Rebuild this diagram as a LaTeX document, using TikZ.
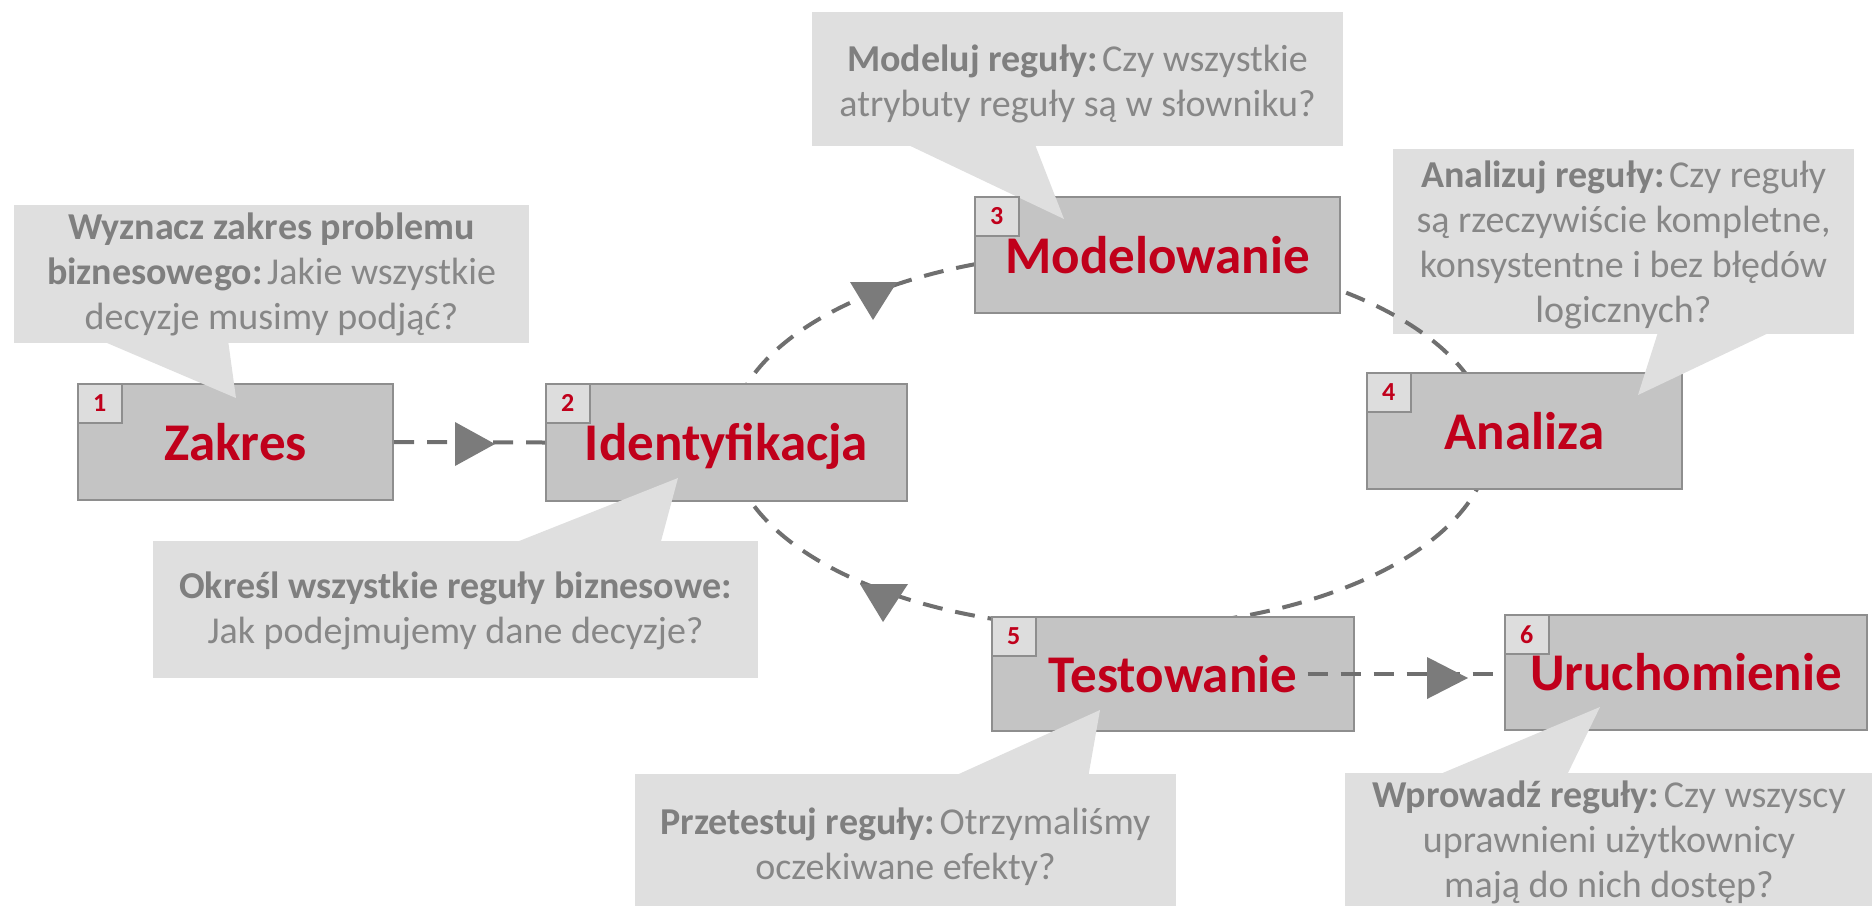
\documentclass[tikz,border=0pt]{standalone}
\usepackage{fontspec}
\setmainfont{Carlito}
\definecolor{boxfill}{HTML}{C4C4C4}
\definecolor{boxline}{HTML}{8E8E8E}
\definecolor{numfill}{HTML}{DDDDDD}
\definecolor{callfill}{HTML}{DFDFDF}
\definecolor{calltext}{HTML}{7F7F7F}
\definecolor{calltextlight}{HTML}{878787}
\definecolor{titlered}{HTML}{C0001B}
\definecolor{dashcol}{HTML}{6F6F6F}
\definecolor{tricol}{HTML}{7B7B7B}
\newcommand{\hd}[1]{\textbf{\color{calltext}#1}}
\begin{document}
\begin{tikzpicture}[x=0.5pt,y=-0.5pt,
  stepbox/.style={draw=boxline, line width=1pt, fill=boxfill, inner sep=0pt},
  numbox/.style={draw=boxline, line width=0.8pt, fill=numfill, minimum width=22pt, minimum height=19.5pt, inner sep=0pt, anchor=north west, text=titlered, font=\bfseries\fontsize{13}{13}\selectfont},
  title/.style={text=titlered, font=\bfseries\fontsize{26.5}{30}\selectfont, inner sep=0pt, anchor=base},
  calltxt/.style={text=calltextlight, font=\fontsize{19}{22.5}\selectfont, align=center, inner sep=0pt},
  callbg/.style={fill=callfill, inner sep=0pt},
  flow/.style={draw=dashcol, line width=2pt, dash pattern=on 10pt off 6.5pt},
  tri/.style={fill=tricol},
  tail/.style={fill=callfill}
]
\useasboundingbox (0,0) rectangle (1872,905);

% callout bodies
\node[callbg, minimum width=257.5pt, minimum height=69pt] (c1) at (271.5,274) {};
\node[callbg, minimum width=302.5pt, minimum height=68.5pt] (c2) at (455.5,609.5) {};
\node[callbg, minimum width=265.5pt, minimum height=67pt] (c3) at (1077.5,79) {};
\node[callbg, minimum width=230.5pt, minimum height=92.5pt] (c4) at (1623.5,241.5) {};
\node[callbg, minimum width=270.5pt, minimum height=75pt] (c5) at (905.5,849) {};
\node[callbg, minimum width=270pt, minimum height=75pt] (c6) at (1615,848) {};

% cycle
\coordinate (cyc) at (1110,440);
\draw[flow] (cyc) ellipse [x radius=190pt, y radius=94pt];

% step boxes
\node[stepbox, minimum width=157.5pt, minimum height=58pt] (b1) at (235.5,442) {};
\node[stepbox, minimum width=180.5pt, minimum height=58.5pt] (b2) at (726.5,442.5) {};
\node[stepbox, minimum width=182.5pt, minimum height=58pt] (b3) at (1157.5,255) {};
\node[stepbox, minimum width=157.5pt, minimum height=58pt] (b4) at (1524.5,431) {};
\node[stepbox, minimum width=181pt, minimum height=57pt] (b5) at (1173,674) {};
\node[stepbox, minimum width=181pt, minimum height=57.5pt] (b6) at (1686,672.5) {};

% callout tails
\fill[tail] (100,340) -- (228,340) -- (236,398) -- cycle;
\fill[tail] (509,545) -- (660,545) -- (678,478) -- cycle;
\fill[tail] (902,142) -- (1034,142) -- (1064,219) -- cycle;
\fill[tail] (1659,329) -- (1777,329) -- (1638,395) -- cycle;
\fill[tail] (950,778) -- (1088,778) -- (1100,710) -- cycle;
\fill[tail] (1433,777) -- (1566,777) -- (1600,707) -- cycle;

% number squares
\node[numbox] (n1) at (b1.north west) {1};
\node[numbox] (n2) at (b2.north west) {2};
\node[numbox] (n3) at (b3.north west) {3};
\node[numbox] (n4) at (b4.north west) {4};
\node[numbox] (n5) at (b5.north west) {5};
\node[numbox] (n6) at (b6.north west) {6};

% titles
\node[title] (t1) at ([yshift=-9pt]b1.center) {Zakres};
\node[title] (t2) at ([yshift=-9pt]b2.center) {Identyfikacja};
\node[title] (t3) at ([yshift=-9pt]b3.center) {Modelowanie};
\node[title] (t4) at ([yshift=-9pt]b4.center) {Analiza};
\node[title] (t5) at ([yshift=-9pt]b5.center) {Testowanie};
\node[title] (t6) at ([yshift=-9pt]b6.center) {Uruchomienie};

% callout texts
\node[calltxt] (c1t) at (271.5,274) {\hd{Wyznacz zakres problemu}\\\hd{biznesowego:}\hspace{0.12em}Jakie wszystkie\\decyzje musimy podjąć?};
\node[calltxt] (c2t) at (455.5,611) {\hd{Określ wszystkie reguły biznesowe:}\\Jak podejmujemy dane decyzje?};
\node[calltxt] (c3t) at (1077.5,83.5) {\hd{Modeluj reguły:}\hspace{0.12em}Czy wszystkie\\atrybuty reguły są w słowniku?};
\node[calltxt] (c4t) at (1623.5,245) {\hd{Analizuj reguły:}\hspace{0.12em}Czy reguły\\są rzeczywiście kompletne,\\konsystentne i bez błędów\\logicznych?};
\node[calltxt] (c5t) at (905.5,846.5) {\hd{Przetestuj reguły:}\hspace{0.12em}Otrzymaliśmy\\oczekiwane efekty?};
\node[calltxt] (c6t) at (1609,842) {\hd{Wprowadź reguły:}\hspace{0.12em}Czy wszyscy\\uprawnieni użytkownicy\\mają do nich dostęp?};

% straight connectors with mid triangles
\draw[flow] (b1.east) -- (b2.west);
\fill[tri] (455,422) -- (495,444) -- (455,466) -- cycle;
\draw[flow] ([xshift=5pt]t5.east) -- (t5.east -| b6.west);
\fill[tri] (1427,657) -- (1468,678) -- (1427,699) -- cycle;

% triangles on the cycle
\fill[tri] (850,282) -- (897,282) -- (873,320) -- cycle;
\fill[tri] (860,584) -- (908,584) -- (883,622) -- cycle;
\end{tikzpicture}
\end{document}
